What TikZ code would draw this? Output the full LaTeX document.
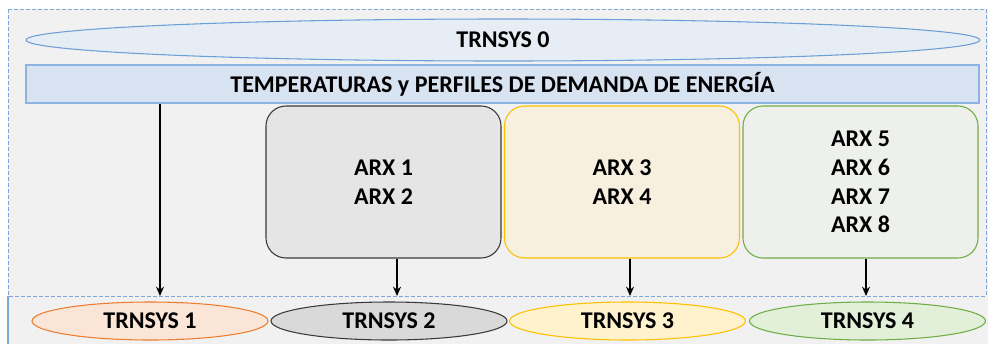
\documentclass[tikz,border=0pt]{standalone}
\usepackage{fontspec}
\setmainfont{Carlito}
\usetikzlibrary{shapes.geometric,arrows.meta}
\definecolor{panelbg}{HTML}{F1F1F1}
\definecolor{panelline}{HTML}{7FA8DA}
\definecolor{topfill}{HTML}{E6EDF5}
\definecolor{topline}{HTML}{6A9FD8}
\definecolor{barfill}{HTML}{D7E3F1}
\definecolor{barline}{HTML}{8DB2E2}
\definecolor{grayfill}{HTML}{E5E5E5}
\definecolor{grayline}{HTML}{3A3A3A}
\definecolor{yelfill}{HTML}{F8F0DF}
\definecolor{yelline}{HTML}{FFC000}
\definecolor{grnfill}{HTML}{EEF0EC}
\definecolor{grnline}{HTML}{70AD47}
\definecolor{orfill}{HTML}{FBE5D6}
\definecolor{orline}{HTML}{ED7D31}
\definecolor{g2fill}{HTML}{D9D9D9}
\definecolor{y3fill}{HTML}{FFF2CC}
\definecolor{g4fill}{HTML}{E2F0D9}
\tikzset{
  lbl/.style={font=\fontsize{18}{21.5}\selectfont\bfseries, align=center},
  ell/.style={ellipse, inner sep=0pt, line width=0.8pt, lbl},
  arxbox/.style={rectangle, rounded corners=15pt, inner sep=0pt, line width=0.8pt,
     minimum width=176.25pt, minimum height=114pt, lbl},
  bot/.style={ell, minimum width=177pt, minimum height=28.5pt},
  arr/.style={-{Stealth[length=7pt,width=6pt]}, line width=1.1pt, black}
}
\begin{document}
\begin{tikzpicture}[x=0.75pt,y=-0.75pt]
\useasboundingbox (0,0) rectangle (988,344);
% panels
\fill[panelbg] (8,9) rectangle (988,344);
\draw[panelline, dash pattern=on 3pt off 1.5pt, line width=0.7pt] (8,9) rectangle (986,296);
\draw[panelline, line width=0.9pt] (8,296) -- (8,344);
% top
\node[ell, draw=topline, fill=topfill, minimum width=715.5pt, minimum height=31.5pt] (t0) at (503,40) {TRNSYS 0};
\node[rectangle, draw=barline, fill=barfill, line width=0.8pt, inner sep=0pt, minimum width=714.75pt, minimum height=28.5pt, lbl] (bar) at (502.5,84) {TEMPERATURAS y PERFILES DE DEMANDA DE ENERGÍA};
% boxes
\node[arxbox, draw=grayline, fill=grayfill] (b1) at (383.5,182) {ARX 1\\ARX 2};
\node[arxbox, draw=yelline, fill=yelfill] (b2) at (622,182) {ARX 3\\ARX 4};
\node[arxbox, draw=grnline, fill=grnfill] (b3) at (860.5,182) {ARX 5\\ARX 6\\ARX 7\\ARX 8};
% bottom
\node[bot, draw=orline, fill=orfill] (t1) at (150,321) {TRNSYS 1};
\node[bot, draw=grayline, fill=g2fill] (t2) at (389,321) {TRNSYS 2};
\node[bot, draw=yelline, fill=y3fill] (t3) at (627.5,321) {TRNSYS 3};
\node[bot, draw=grnline, fill=g4fill] (t4) at (867.5,321) {TRNSYS 4};
% arrow ends on panel line
\coordinate (p1) at (160,296);
\coordinate (p2) at (397,296);
\coordinate (p3) at (630,296);
\coordinate (p4) at (866,296);
\draw[arr] (bar.south -| p1) -- (p1);
\draw[arr] (b1.south -| p2) -- (p2);
\draw[arr] (b2.south -| p3) -- (p3);
\draw[arr] (b3.south -| p4) -- (p4);
\end{tikzpicture}
\end{document}
